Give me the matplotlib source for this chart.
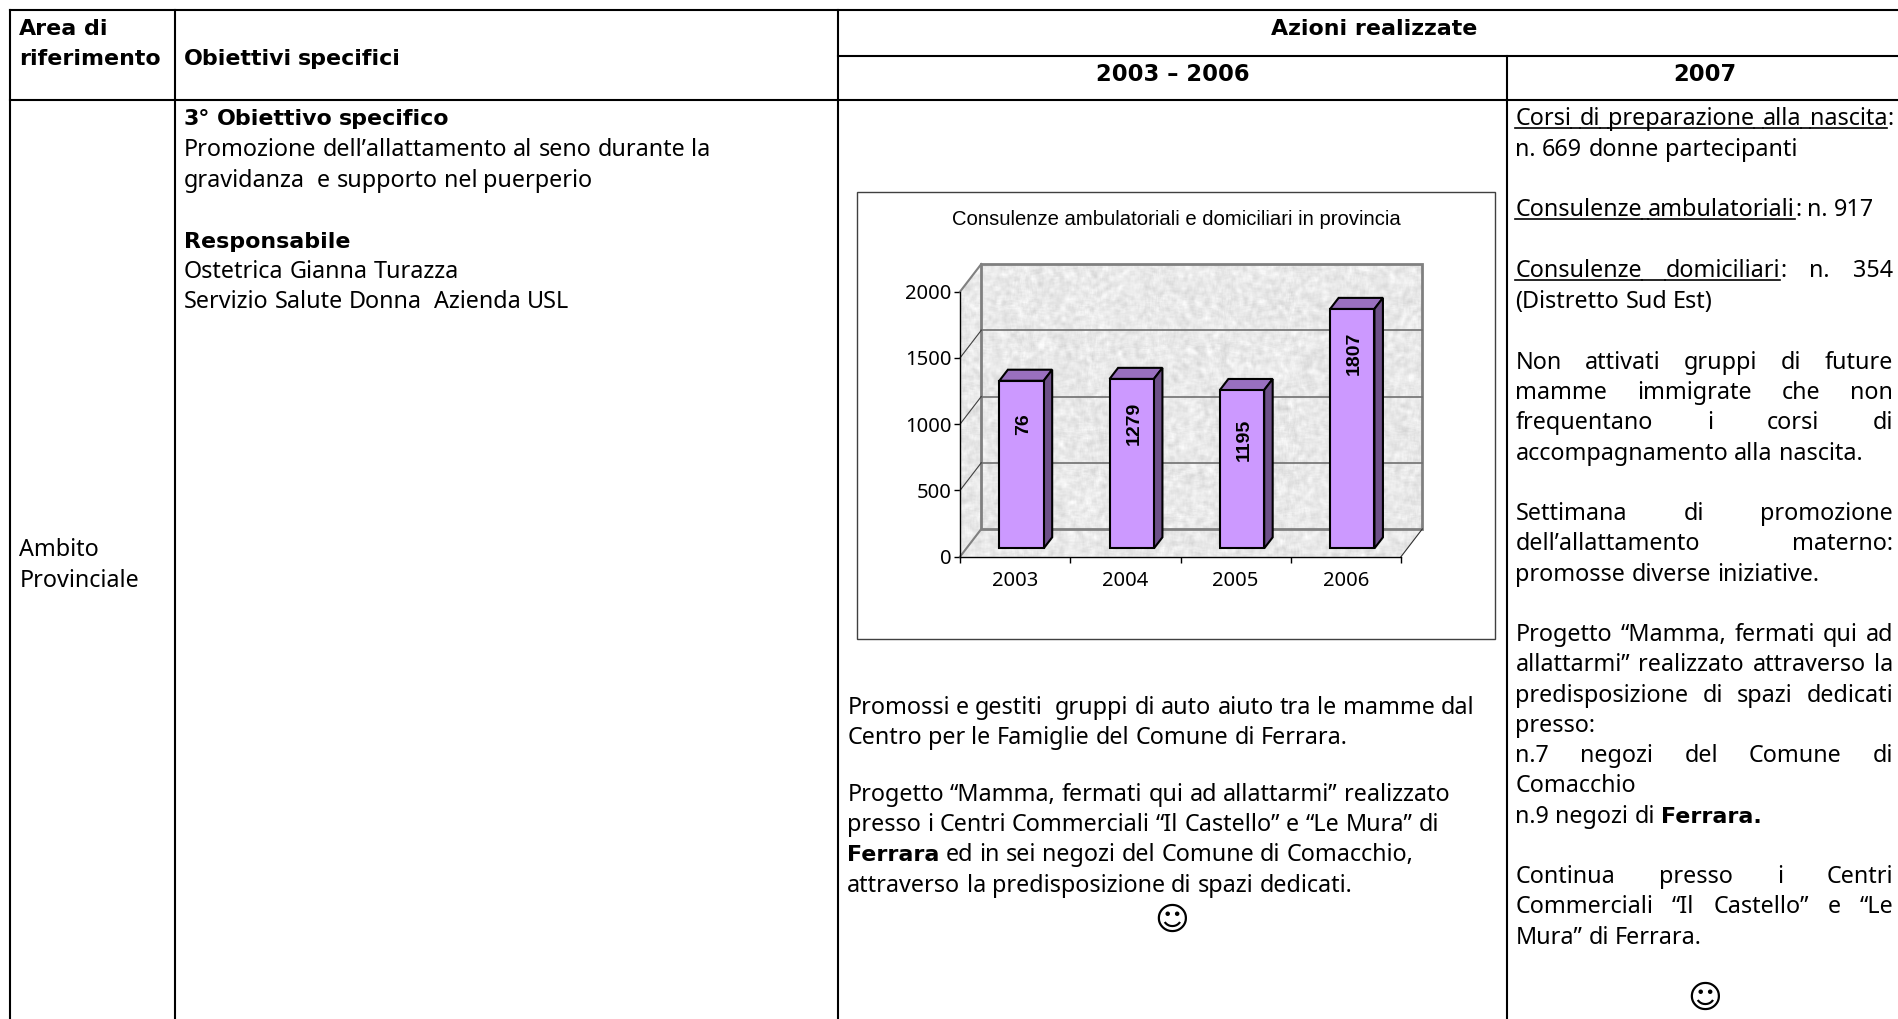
import numpy as np
import matplotlib
matplotlib.use('Agg')
import matplotlib.pyplot as plt
from matplotlib.patches import Polygon, Rectangle

# chart values
years = ['2003', '2004', '2005', '2006']
bar_heights = [1265, 1279, 1195, 1807]
bar_labels = ['76', '1279', '1195', '1807']
label_heights = [940, 940, 822, 1470]
y_ticks = [0, 500, 1000, 1500, 2000]
chart_title = 'Consulenze ambulatoriali e domiciliari in provincia'

# table text: (y, runs, justified), y in 1568 wide coordinates
# run style: n normal, b bold, u underline
col_area = [(22, [('Area di', 'b')]), (47, [('riferimento', 'b')]),
            (453, [('Ambito', 'n')]), (478, [('Provinciale', 'n')])]
col_obiettivi = [(47, [('Obiettivi specifici', 'b')]),
                 (97, [('3° Obiettivo specifico', 'b')]),
                 (122, [('Promozione dell’allattamento al seno durante la', 'n')]),
                 (148, [('gravidanza  e supporto nel puerperio', 'n')]),
                 (198, [('Responsabile', 'b')]),
                 (223, [('Ostetrica Gianna Turazza', 'n')]),
                 (248, [('Servizio Salute Donna  Azienda USL', 'n')])]
col_azioni = [(583, [('Promossi e gestiti  gruppi di auto aiuto tra le mamme dal', 'n')]),
              (608, [('Centro per le Famiglie del Comune di Ferrara.', 'n')]),
              (655, [('Progetto “Mamma, fermati qui ad allattarmi” realizzato', 'n')]),
              (680, [('presso i Centri Commerciali “Il Castello” e “Le Mura” di', 'n')]),
              (705, [('Ferrara', 'b'), (' ed in sei negozi del Comune di Comacchio,', 'n')]),
              (730, [('attraverso la predisposizione di spazi dedicati.', 'n')])]
col_2007 = [(97, [('Corsi di preparazione alla nascita', 'u'), (':', 'n')], True),
            (122, [('n. 669 donne partecipanti', 'n')], False),
            (172, [('Consulenze ambulatoriali', 'u'), (': n. 917', 'n')], False),
            (222, [('Consulenze domiciliari', 'u'), (': n. 354', 'n')], True),
            (248, [('(Distretto Sud Est)', 'n')], False),
            (298, [('Non attivati gruppi di future', 'n')], True),
            (323, [('mamme immigrate che non', 'n')], True),
            (348, [('frequentano i corsi di', 'n')], True),
            (373, [('accompagnamento alla nascita.', 'n')], False),
            (423, [('Settimana di promozione', 'n')], True),
            (448, [('dell’allattamento materno:', 'n')], True),
            (473, [('promosse diverse iniziative.', 'n')], False),
            (523, [('Progetto “Mamma, fermati qui ad', 'n')], True),
            (548, [('allattarmi” realizzato attraverso la', 'n')], True),
            (573, [('predisposizione di spazi dedicati', 'n')], True),
            (598, [('presso:', 'n')], False),
            (623, [('n.7 negozi del Comune di', 'n')], True),
            (648, [('Comacchio', 'n')], False),
            (673, [('n.9 negozi di ', 'n'), ('Ferrara.', 'b')], False),
            (723, [('Continua presso i Centri', 'n')], True),
            (748, [('Commerciali “Il Castello” e “Le', 'n')], True),
            (773, [('Mura” di Ferrara.', 'n')], False)]

S = 1898 / 1568
FONT = 'Noto Sans'
FS = 16.8
FONT_B = 'DejaVu Sans'
FS_B = 15.9

fig = plt.figure(figsize=(18.98, 10.19), dpi=100)
page = fig.add_axes([0, 0, 1, 1])
page.set_xlim(0, 1898)
page.set_ylim(1019, 0)
page.axis('off')
rend = fig.canvas.get_renderer()


def font_args(bold):
    if bold:
        return dict(family=FONT_B, fontsize=FS_B, fontweight='bold')
    return dict(family=FONT, fontsize=FS)


def text_w(s, bold=False):
    t = page.text(0, 0, s, **font_args(bold))
    w = t.get_window_extent(rend).width
    t.remove()
    return w


def draw_runs(x, y, runs, width=None):
    # split in words so that a justified line can share out the spare room
    words = []
    for s, style in runs:
        parts = s.split(' ')
        for i, p in enumerate(parts):
            if i > 0:
                words.append(None)
            if p:
                words.append((p, style))
    gaps = sum(1 for w in words if w is None)
    space = text_w('a a') - text_w('aa')
    if width is not None and gaps:
        used = sum(text_w(w[0], w[1] == 'b') for w in words if w)
        space = (width - used) / gaps
    cx = x
    for i, w in enumerate(words):
        if w is None:
            if words[i - 1] and words[i - 1][1] == 'u' and words[i + 1] and words[i + 1][1] == 'u':
                page.plot([cx, cx + space], [y + 3, y + 3], color='black', lw=1.2)
            cx += space
            continue
        page.text(cx, y, w[0], va='baseline', **font_args(w[1] == 'b'))
        ww = text_w(w[0], w[1] == 'b')
        if w[1] == 'u':
            page.plot([cx, cx + ww], [y + 3, y + 3], color='black', lw=1.2)
        cx += ww


def sx(v):
    return v * S


# text y above is the line centre, baseline sits a little lower
def base(v):
    return v * S + 8


for y, runs in col_area:
    draw_runs(sx(16), base(y), runs)
for y, runs in col_obiettivi:
    draw_runs(sx(152), base(y), runs)
for y, runs in col_azioni:
    draw_runs(sx(700), base(y), runs)
for y, runs, just in col_2007:
    draw_runs(sx(1252), base(y), runs, sx(1564 - 1252) if just else None)

page.text(sx(1135), base(22), 'Azioni realizzate', ha='center', **font_args(True))
page.text(sx(969), base(60), '2003 – 2006', family=FONT_B, fontsize=16.3, fontweight='bold', ha='center')
page.text(sx(1408), base(60), '2007', family=FONT_B, fontsize=16.3, fontweight='bold', ha='center')
page.text(sx(968), sx(760), '☺', family='DejaVu Sans', fontsize=24, ha='center', va='center')
page.text(sx(1408), sx(825), '☺', family='DejaVu Sans', fontsize=24, ha='center', va='center')

# table rules
for x in [8.5, 144.5, 692.5, 1245]:
    top = 46 if x == 1245 else 8
    page.plot([sx(x)] * 2, [top * S, 1019], color='black', lw=1.5)
page.plot([sx(8.5), 1898], [8 * S] * 2, color='black', lw=1.5)
page.plot([sx(692.5), 1898], [46 * S] * 2, color='black', lw=1.5)
page.plot([sx(8.5), 1898], [83 * S] * 2, color='black', lw=1.5)

# chart box
page.add_patch(Rectangle((857, 192), 638, 447, fc='white', ec='#404040', lw=1))
page.text(1176, 219, chart_title, family='Liberation Sans', fontsize=14.6, ha='center', va='center')

# chart axes cover the front plane of the 3d box
ax = fig.add_axes([960 / 1898, 1 - 556.7 / 1019, 441 / 1898, 265 / 1019])
ax.patch.set_alpha(0)
ax.set_xlim(0, 4)
ax.set_ylim(0, 2000)
for s in ['top', 'right']:
    ax.spines[s].set_visible(False)
for s in ['left', 'bottom']:
    ax.spines[s].set_linewidth(1)
DX, DY = 0.193, 209  # full depth of the box in data units
BAR_W = 0.402
BAR_D0, BAR_D1 = 0.3, 0.7


def depth(x, y, d):
    return (x + DX * d, y + DY * d)


# mottled grey for walls and floor, only a surface pattern: a fixed hash, then blurred
yy, xx = np.mgrid[0:300, 0:470]
grain = np.sin(xx * 12.9898 + yy * 78.233) * 43758.5453
grain = grain - np.floor(grain)
tex = np.zeros_like(grain)
for dx in range(-2, 3):
    for dy in range(-2, 3):
        tex += np.roll(np.roll(grain, dx, axis=1), dy, axis=0)
tex = tex / 25
tex = 233 + (tex - tex.mean()) / tex.std() * 6
walls = [[depth(0, 0, 1), depth(4, 0, 1), depth(4, 2000, 1), depth(0, 2000, 1)],
         [(0, 0), depth(0, 0, 1), depth(0, 2000, 1), (0, 2000)],
         [(0, 0), (4, 0), depth(4, 0, 1), depth(0, 0, 1)]]
for w in walls:
    im = ax.imshow(tex, cmap='gray', vmin=0, vmax=255, extent=(0, 4 + DX, 0, 2000 + DY),
                   aspect='auto', zorder=1, interpolation='bilinear')
    im.set_clip_box(fig.bbox)
    im.set_clip_path(Polygon(w, transform=ax.transData))
ax.set_xlim(0, 4)
ax.set_ylim(0, 2000)

# box edges
ax.add_patch(Polygon(walls[0], closed=True, fc='none', ec='#808080', lw=2, zorder=2, clip_on=False))
ax.plot([0, DX], [2000, 2000 + DY], color='#808080', lw=1.5, zorder=2, clip_on=False)
ax.plot([0, DX], [0, DY], color='#808080', lw=1.5, zorder=2, clip_on=False)
ax.plot([4, 4 + DX], [0, DY], color='#303030', lw=0.8, zorder=2, clip_on=False)
for v in y_ticks[1:-1]:
    ax.plot([DX, 4 + DX], [v + DY] * 2, color='#707070', lw=1.2, zorder=2, clip_on=False)
    ax.plot([0, DX], [v, v + DY], color='#404040', lw=0.8, zorder=2, clip_on=False)

# bars, front face from bar(), the sides from the same values
xpos = np.arange(4) + 0.5
fx, fy = depth(xpos - BAR_W / 2, 0, BAR_D0)
ax.bar(fx, bar_heights, BAR_W, bottom=fy, align='edge', color='#CC99FF', edgecolor='black', lw=1.5, zorder=5, clip_on=False)
for x0, h, lab, lh in zip(xpos, bar_heights, bar_labels, label_heights):
    l = x0 - BAR_W / 2
    r = x0 + BAR_W / 2
    top = [depth(l, h, BAR_D0), depth(r, h, BAR_D0), depth(r, h, BAR_D1), depth(l, h, BAR_D1)]
    side = [depth(r, 0, BAR_D0), depth(r, h, BAR_D0), depth(r, h, BAR_D1), depth(r, 0, BAR_D1)]
    ax.add_patch(Polygon(top, fc='#9970BF', ec='black', lw=1.5, zorder=4, clip_on=False))
    ax.add_patch(Polygon(side, fc='#6D5088', ec='black', lw=1.5, zorder=4, clip_on=False))
    lx, ly = depth(x0 + 0.02, lh, BAR_D0)
    ax.text(lx, ly, lab, rotation=90, ha='center', va='center', family='Liberation Sans',
            fontsize=14, fontweight='bold', zorder=6)

ax.set_xticks([0, 1, 2, 3, 4])
ax.set_xticklabels([])
ax.set_yticks(y_ticks)
ax.tick_params(length=4, width=1, labelsize=14.5, pad=2)
for lab in ax.get_yticklabels():
    lab.set_family(FONT)
for x0, yr in zip(xpos, years):
    ax.text(x0, -185, yr, ha='center', va='center', family=FONT, fontsize=14.5)

fig.savefig('out.png', dpi=100)
